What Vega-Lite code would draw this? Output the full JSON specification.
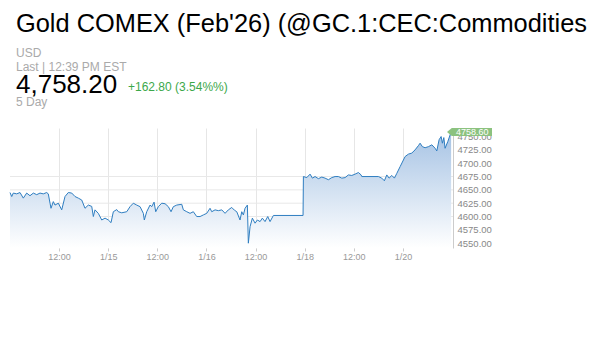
{
  "$schema": "https://vega.github.io/schema/vega-lite/v6.json",
  "width": 443,
  "height": 120,
  "autosize": {"type": "none"},
  "padding": {"left": 10, "top": 128, "right": 152, "bottom": 92},
  "background": "white",
  "config": {"view": {"stroke": null}, "font": "Liberation Sans",
    "axisY": {"labelOverlap": false, "labelBound": false}},
  "datasets": {
    "prices": [
      {"t": 0, "p": 4645}, {"t": 0.035, "p": 4637.5}, {"t": 0.067, "p": 4644}, {"t": 0.136, "p": 4642.5},
      {"t": 0.204, "p": 4645}, {"t": 0.271, "p": 4634.5}, {"t": 0.34, "p": 4644}, {"t": 0.407, "p": 4639},
      {"t": 0.475, "p": 4644}, {"t": 0.544, "p": 4641}, {"t": 0.611, "p": 4644}, {"t": 0.678, "p": 4642.5},
      {"t": 0.747, "p": 4645}, {"t": 0.78, "p": 4642.5}, {"t": 0.815, "p": 4625}, {"t": 0.835, "p": 4615.5},
      {"t": 0.882, "p": 4628}, {"t": 0.916, "p": 4621.5}, {"t": 0.984, "p": 4625}, {"t": 1.053, "p": 4612.5},
      {"t": 1.12, "p": 4637.5}, {"t": 1.187, "p": 4645}, {"t": 1.257, "p": 4644}, {"t": 1.324, "p": 4637.5},
      {"t": 1.391, "p": 4634.5}, {"t": 1.46, "p": 4631}, {"t": 1.527, "p": 4615.5}, {"t": 1.595, "p": 4621.5},
      {"t": 1.664, "p": 4619}, {"t": 1.697, "p": 4600}, {"t": 1.731, "p": 4612.5}, {"t": 1.798, "p": 4606},
      {"t": 1.868, "p": 4593.5}, {"t": 1.935, "p": 4597}, {"t": 2.002, "p": 4593.5}, {"t": 2.057, "p": 4588.5},
      {"t": 2.104, "p": 4609}, {"t": 2.173, "p": 4613}, {"t": 2.206, "p": 4609}, {"t": 2.275, "p": 4607},
      {"t": 2.377, "p": 4609}, {"t": 2.444, "p": 4618.5}, {"t": 2.511, "p": 4625}, {"t": 2.58, "p": 4621.5},
      {"t": 2.648, "p": 4618.5}, {"t": 2.715, "p": 4606}, {"t": 2.735, "p": 4593.5}, {"t": 2.784, "p": 4609},
      {"t": 2.851, "p": 4621.5}, {"t": 2.886, "p": 4618.5}, {"t": 2.933, "p": 4627}, {"t": 2.967, "p": 4609},
      {"t": 3.02, "p": 4618.5}, {"t": 3.09, "p": 4625}, {"t": 3.157, "p": 4624}, {"t": 3.224, "p": 4618.5},
      {"t": 3.279, "p": 4609}, {"t": 3.326, "p": 4618.5}, {"t": 3.395, "p": 4621.5}, {"t": 3.497, "p": 4623},
      {"t": 3.53, "p": 4612.5}, {"t": 3.599, "p": 4609}, {"t": 3.666, "p": 4606}, {"t": 3.733, "p": 4609},
      {"t": 3.802, "p": 4600}, {"t": 3.87, "p": 4600}, {"t": 3.937, "p": 4603}, {"t": 4.006, "p": 4606},
      {"t": 4.073, "p": 4615.5}, {"t": 4.108, "p": 4609}, {"t": 4.175, "p": 4612.5}, {"t": 4.242, "p": 4611},
      {"t": 4.312, "p": 4612.5}, {"t": 4.379, "p": 4606}, {"t": 4.446, "p": 4612.5}, {"t": 4.515, "p": 4617},
      {"t": 4.568, "p": 4612}, {"t": 4.617, "p": 4609}, {"t": 4.684, "p": 4593.5}, {"t": 4.719, "p": 4609},
      {"t": 4.752, "p": 4603}, {"t": 4.786, "p": 4615.5}, {"t": 4.833, "p": 4621.5}, {"t": 4.853, "p": 4550},
      {"t": 4.888, "p": 4581}, {"t": 4.935, "p": 4597}, {"t": 4.99, "p": 4587.5}, {"t": 5.037, "p": 4593.5},
      {"t": 5.092, "p": 4590.5}, {"t": 5.138, "p": 4597}, {"t": 5.193, "p": 4590.5}, {"t": 5.248, "p": 4600},
      {"t": 5.295, "p": 4590.5}, {"t": 5.363, "p": 4602}, {"t": 5.967, "p": 4602}, {"t": 5.974, "p": 4675},
      {"t": 6.043, "p": 4673}, {"t": 6.11, "p": 4679.5}, {"t": 6.157, "p": 4672}, {"t": 6.212, "p": 4675},
      {"t": 6.279, "p": 4671}, {"t": 6.348, "p": 4674}, {"t": 6.415, "p": 4672}, {"t": 6.483, "p": 4669},
      {"t": 6.552, "p": 4673}, {"t": 6.619, "p": 4675}, {"t": 6.686, "p": 4675}, {"t": 6.756, "p": 4672},
      {"t": 6.823, "p": 4673}, {"t": 6.89, "p": 4678}, {"t": 6.959, "p": 4677}, {"t": 7.026, "p": 4679.5},
      {"t": 7.094, "p": 4682.5}, {"t": 7.149, "p": 4678}, {"t": 7.163, "p": 4675}, {"t": 7.501, "p": 4675},
      {"t": 7.57, "p": 4672}, {"t": 7.623, "p": 4667}, {"t": 7.672, "p": 4678}, {"t": 7.719, "p": 4672},
      {"t": 7.774, "p": 4677}, {"t": 7.827, "p": 4672}, {"t": 7.876, "p": 4681}, {"t": 7.943, "p": 4693.5},
      {"t": 8.01, "p": 4706}, {"t": 8.045, "p": 4712.5}, {"t": 8.112, "p": 4717}, {"t": 8.181, "p": 4719},
      {"t": 8.248, "p": 4725}, {"t": 8.316, "p": 4733}, {"t": 8.35, "p": 4737.5}, {"t": 8.397, "p": 4731},
      {"t": 8.452, "p": 4729}, {"t": 8.519, "p": 4731}, {"t": 8.589, "p": 4734.5}, {"t": 8.656, "p": 4728},
      {"t": 8.69, "p": 4723}, {"t": 8.737, "p": 4744}, {"t": 8.778, "p": 4750}, {"t": 8.804, "p": 4737.5},
      {"t": 8.833, "p": 4748}, {"t": 8.859, "p": 4728}, {"t": 8.914, "p": 4740.5}, {"t": 8.961, "p": 4753},
      {"t": 8.982, "p": 4758.6}
    ],
    "grid": [{"level": 4600}, {"level": 4625}, {"level": 4650}, {"level": 4675}],
    "quote": [
      {"name": "Gold COMEX (Feb'26) (@GC.1:CEC:Commodities", "currency": "USD", "asof": "Last | 12:39 PM EST",
       "last": 4758.20, "changeText": "+162.80 (3.54%%)", "range": "5 Day", "tag": 4758.60, "t": 9.02}
    ]
  },
  "layer": [
    {
      "data": {"name": "grid"},
      "mark": {"type": "rule", "color": "#e8e8e8", "strokeWidth": 1},
      "encoding": {
        "y": {"field": "level", "type": "quantitative", "scale": {"domain": [4541, 4766], "zero": false, "nice": false},
          "axis": {"orient": "right", "values": [4550, 4575, 4600, 4625, 4650, 4675, 4700, 4725, 4750],
            "format": ".2f", "grid": false, "ticks": false, "domain": true, "domainColor": "#cccccc",
            "labelOverlap": false, "labelBound": false,
            "labelColor": "#888888", "labelFontSize": 9.5, "labelPadding": 4, "title": null}}
      }
    },
    {
      "data": {"name": "prices"},
      "mark": {
        "type": "area",
        "color": {"gradient": "linear", "x1": 0, "y1": 0, "x2": 0, "y2": 1,
          "stops": [{"offset": 0, "color": "#a6c3e4"}, {"offset": 1, "color": "#ffffff"}]}
      },
      "encoding": {
        "x": {"field": "t", "type": "quantitative", "scale": {"domain": [0, 9.02], "nice": false, "zero": false},
          "axis": {"values": [1, 2, 3, 4, 5, 6, 7, 8],
            "labelExpr": "['','12:00','1/15','12:00','1/16','12:00','1/18','12:00','1/20'][datum.value]",
            "grid": true, "gridColor": "#e6e6e6", "domain": false, "ticks": true, "tickColor": "#cccccc",
            "tickSize": 3, "labelColor": "#999999", "labelFontSize": 9, "labelPadding": 1, "title": null}},
        "y": {"field": "p", "type": "quantitative", "scale": {"domain": [4541, 4766], "zero": false, "nice": false},
          "axis": {"orient": "right", "values": [4550, 4575, 4600, 4625, 4650, 4675, 4700, 4725, 4750],
            "format": ".2f", "grid": false, "ticks": false, "domain": true, "domainColor": "#cccccc",
            "labelOverlap": false, "labelBound": false,
            "labelColor": "#888888", "labelFontSize": 9.5, "labelPadding": 4, "title": null}},
        "y2": {"datum": 4541}
      }
    },
    {
      "data": {"name": "prices"},
      "mark": {"type": "line", "color": "#2f7ec1", "strokeWidth": 1},
      "encoding": {
        "x": {"field": "t", "type": "quantitative"},
        "y": {"field": "p", "type": "quantitative", "scale": {"domain": [4541, 4766], "zero": false, "nice": false},
          "axis": {"orient": "right", "values": [4550, 4575, 4600, 4625, 4650, 4675, 4700, 4725, 4750],
            "format": ".2f", "grid": false, "ticks": false, "domain": true, "domainColor": "#cccccc",
            "labelOverlap": false, "labelBound": false,
            "labelColor": "#888888", "labelFontSize": 9.5, "labelPadding": 4, "title": null}}
      }
    },
    {
      "data": {"name": "quote"},
      "mark": {"type": "point", "filled": true, "opacity": 1, "color": "#8cc27f", "size": 6400,
        "shape": "M-0.15,0L-0.03,-0.1L0.975,-0.1L0.975,0.1L-0.03,0.1Z"},
      "encoding": {
        "x": {"field": "t", "type": "quantitative"},
        "y": {"field": "tag", "type": "quantitative", "scale": {"domain": [4541, 4766], "zero": false, "nice": false},
          "axis": {"orient": "right", "values": [4550, 4575, 4600, 4625, 4650, 4675, 4700, 4725, 4750],
            "format": ".2f", "grid": false, "ticks": false, "domain": true, "domainColor": "#cccccc",
            "labelOverlap": false, "labelBound": false,
            "labelColor": "#888888", "labelFontSize": 9.5, "labelPadding": 4, "title": null}}
      }
    },
    {
      "data": {"name": "quote"},
      "mark": {"type": "text", "color": "white", "fontSize": 9, "align": "left", "baseline": "middle", "dx": 3},
      "encoding": {
        "x": {"field": "t", "type": "quantitative"},
        "y": {"field": "tag", "type": "quantitative", "scale": {"domain": [4541, 4766], "zero": false, "nice": false},
          "axis": {"orient": "right", "values": [4550, 4575, 4600, 4625, 4650, 4675, 4700, 4725, 4750],
            "format": ".2f", "grid": false, "ticks": false, "domain": true, "domainColor": "#cccccc",
            "labelOverlap": false, "labelBound": false,
            "labelColor": "#888888", "labelFontSize": 9.5, "labelPadding": 4, "title": null}},
        "text": {"field": "tag", "type": "quantitative", "format": ".2f"}
      }
    },
    {
      "data": {"name": "quote"},
      "mark": {"type": "text", "x": 6, "y": -96, "align": "left", "baseline": "alphabetic", "fontSize": 25.4, "color": "#000000"},
      "encoding": {"text": {"field": "name"}}
    },
    {
      "data": {"name": "quote"},
      "mark": {"type": "text", "x": 6, "y": -71, "align": "left", "baseline": "alphabetic", "fontSize": 12, "color": "#aaaaaa"},
      "encoding": {"text": {"field": "currency"}}
    },
    {
      "data": {"name": "quote"},
      "mark": {"type": "text", "x": 6, "y": -57.5, "align": "left", "baseline": "alphabetic", "fontSize": 12, "color": "#aaaaaa"},
      "encoding": {"text": {"field": "asof"}}
    },
    {
      "data": {"name": "quote"},
      "mark": {"type": "text", "x": 6, "y": -35, "align": "left", "baseline": "alphabetic", "fontSize": 26, "color": "#000000"},
      "encoding": {"text": {"field": "last", "type": "quantitative", "format": ",.2f"}}
    },
    {
      "data": {"name": "quote"},
      "mark": {"type": "text", "x": 118, "y": -37, "align": "left", "baseline": "alphabetic", "fontSize": 12, "color": "#3ca84a"},
      "encoding": {"text": {"field": "changeText"}}
    },
    {
      "data": {"name": "quote"},
      "mark": {"type": "text", "x": 6, "y": -22.5, "align": "left", "baseline": "alphabetic", "fontSize": 12, "color": "#aaaaaa"},
      "encoding": {"text": {"field": "range"}}
    }
  ]
}
